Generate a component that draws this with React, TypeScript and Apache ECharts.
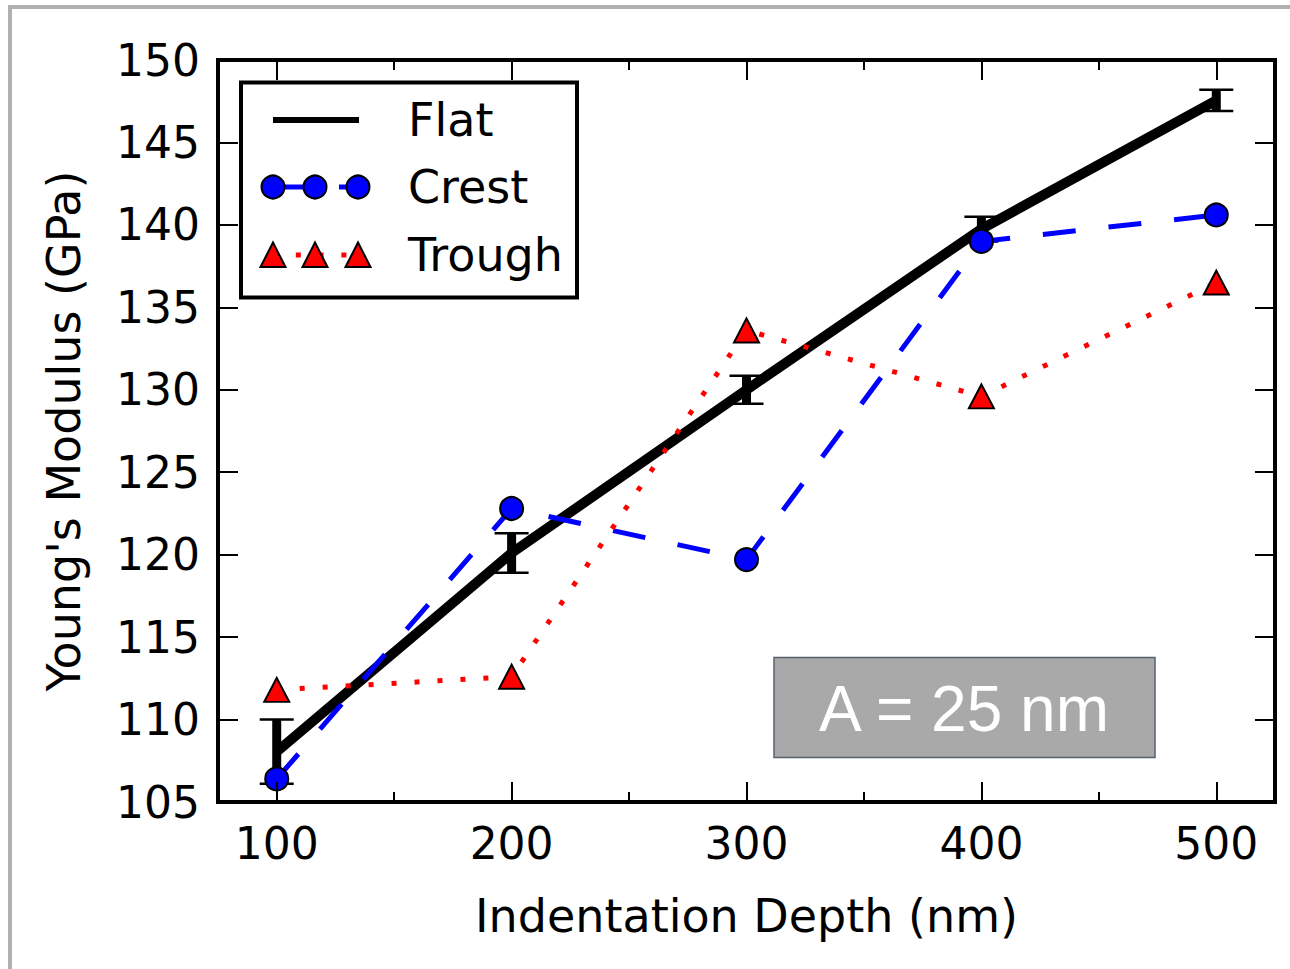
import React, { useEffect, useRef } from "react";
import * as echarts from "echarts";

const depths = [100, 200, 300, 400, 500];
const flatMean = [108.05, 120.1, 130.0, 139.75, 147.55];
const flatErr = [1.95, 1.2, 0.85, 0.75, 0.65];
const crest = [106.4, 122.8, 119.7, 139.0, 140.6];
const trough = [111.8, 112.6, 133.6, 129.6, 136.5];
const xMajorTicks = [100, 200, 300, 400, 500];
const xMinorTicks = [150, 250, 350, 450];
const seriesNames = ["Flat", "Crest", "Trough"];
const annotation = "A = 25 nm";

const FONT = "DejaVu Sans";
const FS = 46;
const TICK_FS = 44;

export default function App() {
  const ref = useRef<HTMLDivElement>(null);
  useEffect(() => {
    if (!ref.current) return;
    const chart = echarts.init(ref.current, null, { renderer: "svg" });

    const grid = { left: 218, top: 60, width: 1057, height: 742 };
    const baseX = { type: "value", min: 75, max: 525, gridIndex: 0, z: 10, splitLine: { show: false } };
    const axisLine = { show: true, lineStyle: { color: "#000", width: 4, cap: "square" } };

    const errData = depths.map((d, i) => [d, flatMean[i] - flatErr[i], flatMean[i] + flatErr[i]]);

    // legend geometry (pixel layout)
    const lx = [273, 315, 358];
    const ly = [120, 187, 255];
    const legendChildren: any[] = [
      { type: "rect", shape: { x: 241, y: 82.5, width: 336, height: 215 }, style: { fill: "#fff", stroke: "#000", lineWidth: 4 } },
      { type: "line", shape: { x1: 273, y1: ly[0], x2: 359, y2: ly[0] }, style: { stroke: "#000", lineWidth: 6 } },
      { type: "line", shape: { x1: 273, y1: ly[1], x2: 359, y2: ly[1] }, style: { stroke: "#0000ff", lineWidth: 5, lineDash: [33, 33] } },
      { type: "line", shape: { x1: 273, y1: ly[2], x2: 359, y2: ly[2] }, style: { stroke: "#ff0000", lineWidth: 5, lineDash: [5, 17.8] } },
    ];
    lx.forEach((x) => {
      legendChildren.push({ type: "circle", shape: { cx: x, cy: ly[1], r: 11.5 }, style: { fill: "#0000ff", stroke: "#000", lineWidth: 2 } });
      legendChildren.push({
        type: "polygon",
        shape: { points: [[x, ly[2] - 12.5], [x - 12.5, ly[2] + 12], [x + 12.5, ly[2] + 12]] },
        style: { fill: "#ff0000", stroke: "#000", lineWidth: 2 },
      });
    });
    seriesNames.forEach((n, i) => {
      legendChildren.push({
        type: "text",
        x: 408,
        y: ly[i],
        style: { text: n, fill: "#000", font: `${FS}px '${FONT}'`, textVerticalAlign: "middle", textAlign: "left" },
      });
    });

    chart.setOption({
      animation: false,
      backgroundColor: "#fff",
      grid,
      xAxis: [
        {
          ...baseX,
          position: "bottom",
          axisLine,
          axisTick: { show: true, inside: true, length: 20, customValues: xMajorTicks, lineStyle: { color: "#000", width: 2 } },
          axisLabel: { show: true, customValues: xMajorTicks, fontSize: TICK_FS, fontFamily: FONT, color: "#000", margin: 19 },
          name: "Indentation Depth (nm)",
          nameLocation: "middle",
          nameGap: 91,
          nameTextStyle: { fontSize: FS, fontFamily: FONT, color: "#000" },
        },
        {
          ...baseX,
          position: "bottom",
          axisLine: { show: false },
          axisTick: { show: true, inside: true, length: 10, customValues: xMinorTicks, lineStyle: { color: "#000", width: 2 } },
          axisLabel: { show: false },
        },
        {
          ...baseX,
          position: "top",
          axisLine,
          axisTick: { show: true, inside: true, length: 20, customValues: xMajorTicks, lineStyle: { color: "#000", width: 2 } },
          axisLabel: { show: false },
        },
        {
          ...baseX,
          position: "top",
          axisLine: { show: false },
          axisTick: { show: true, inside: true, length: 10, customValues: xMinorTicks, lineStyle: { color: "#000", width: 2 } },
          axisLabel: { show: false },
        },
      ],
      yAxis: [
        {
          type: "value",
          min: 105,
          max: 150,
          interval: 5,
          position: "left",
          z: 10,
          axisLine,
          splitLine: { show: false },
          axisTick: { show: true, inside: true, length: 20, lineStyle: { color: "#000", width: 2 } },
          axisLabel: { show: true, fontSize: TICK_FS, fontFamily: FONT, color: "#000", margin: 18 },
          name: "Young's Modulus (GPa)",
          nameLocation: "middle",
          nameGap: 131,
          nameTextStyle: { fontSize: FS, fontFamily: FONT, color: "#000" },
        },
        {
          type: "value",
          min: 105,
          max: 150,
          interval: 5,
          position: "right",
          z: 10,
          axisLine,
          splitLine: { show: false },
          axisTick: { show: true, inside: true, length: 20, lineStyle: { color: "#000", width: 2 } },
          axisLabel: { show: false },
        },
      ],
      series: [
        {
          type: "custom",
          name: "Flat error",
          xAxisIndex: 0,
          yAxisIndex: 0,
          z: 2,
          data: errData,
          encode: { x: 0, y: [1, 2] },
          renderItem: (params: any, api: any) => {
            const x = api.value(0);
            const top = api.coord([x, api.value(2)]);
            const bot = api.coord([x, api.value(1)]);
            const hw = 17;
            return {
              type: "group",
              children: [
                { type: "line", shape: { x1: top[0], y1: top[1], x2: bot[0], y2: bot[1] }, style: { stroke: "#000", lineWidth: 9 } },
                { type: "line", shape: { x1: top[0] - hw, y1: top[1], x2: top[0] + hw, y2: top[1] }, style: { stroke: "#000", lineWidth: 2.5 } },
                { type: "line", shape: { x1: bot[0] - hw, y1: bot[1], x2: bot[0] + hw, y2: bot[1] }, style: { stroke: "#000", lineWidth: 2.5 } },
              ],
            };
          },
        },
        {
          type: "line",
          name: seriesNames[0],
          xAxisIndex: 0,
          yAxisIndex: 0,
          z: 3,
          data: depths.map((d, i) => [d, flatMean[i]]),
          symbol: "none",
          lineStyle: { color: "#000", width: 10, cap: "butt", join: "miter" },
        },
        {
          type: "line",
          name: seriesNames[1],
          xAxisIndex: 0,
          yAxisIndex: 0,
          z: 4,
          data: depths.map((d, i) => [d, crest[i]]),
          symbol: "circle",
          symbolSize: 23,
          showSymbol: true,
          itemStyle: { color: "#0000ff", borderColor: "#000", borderWidth: 2 },
          lineStyle: { color: "#0000ff", width: 5, type: [33, 33], cap: "butt" },
        },
        {
          type: "line",
          name: seriesNames[2],
          xAxisIndex: 0,
          yAxisIndex: 0,
          z: 5,
          data: depths.map((d, i) => [d, trough[i]]),
          symbol: "triangle",
          symbolSize: [25, 24],
          showSymbol: true,
          itemStyle: { color: "#ff0000", borderColor: "#000", borderWidth: 2 },
          lineStyle: { color: "#ff0000", width: 5, type: [5, 18], cap: "butt" },
        },
      ],
      graphic: [
        {
          type: "rect",
          z: 0,
          shape: { x: 10, y: 7, width: 1400, height: 1100 },
          style: { fill: "none", stroke: "#b0b0b0", lineWidth: 4 },
          silent: true,
        },
        { type: "group", z: 100, children: legendChildren },
        {
          type: "rect",
          z: 100,
          shape: { x: 774, y: 657.5, width: 381, height: 100 },
          style: { fill: "#a9a9a9", stroke: "#56606e", lineWidth: 1.5 },
        },
        {
          type: "text",
          z: 101,
          x: 964,
          y: 709,
          style: {
            text: annotation,
            fill: "#fff",
            font: "64px 'Liberation Sans'",
            textAlign: "center",
            textVerticalAlign: "middle",
          },
        },
      ],
    });
    return () => chart.dispose();
  }, []);
  return (
    <div
      ref={ref}
      style={{ position: "absolute", left: 0, top: 0, width: 1290, height: 969, background: "#fff" }}
    />
  );
}
